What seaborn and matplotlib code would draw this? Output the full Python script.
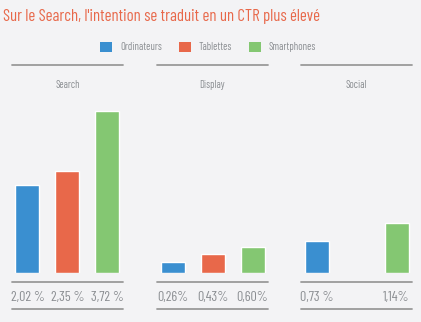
import matplotlib
matplotlib.use("Agg")
import matplotlib.pyplot as plt
from matplotlib.lines import Line2D
from matplotlib.patches import Patch
from matplotlib.transforms import blended_transform_factory
import seaborn as sns
import pandas as pd
import numpy as np

title = "Sur le Search, l'intention se traduit en un CTR plus élevé"
devices = ["Ordinateurs", "Tablettes", "Smartphones"]
panels = ["Search", "Display", "Social"]
search_vals = [2.02, 2.35, 3.72]
display_vals = [0.26, 0.43, 0.60]
social_vals = [0.73, np.nan, 1.14]
search_labels = ["2,02 %", "2,35 %", "3,72 %"]
display_labels = ["0,26%", "0,43%", "0,60%"]
social_labels = ["0,73 %", "", "1,14%"]
colors = ["#3a8fd0", "#e8684a", "#84c772"]

sns.set_theme(style="white")
plt.rcParams["font.family"] = ["Barlow Condensed", "DejaVu Sans"]

BG = "#f3f3f5"
GREY_TXT = "#8b8e92"
LINE = "#9a9a9a"
W, H = 421, 322
fig = plt.figure(figsize=(W / 100, H / 100), dpi=100, facecolor=BG)

def fx(x):
    return x / W

def fy(y):
    return 1 - y / H

fig.text(fx(3), fy(16), title, color="#e8684a", fontsize=12.1, ha="left",
         va="center", fontweight="normal")

handles = [Patch(facecolor=c, edgecolor="none") for c in colors]
fig.legend(handles, devices, ncol=3, loc="center", bbox_to_anchor=(fx(208), fy(47)),
           frameon=False, fontsize=7.6, labelcolor=GREY_TXT, handlelength=1.15,
           handleheight=1.15, handletextpad=0.75, columnspacing=1.6)

lefts = [12, 157, 301]
pw = 111
ymax = 4.0
px_per_unit = 43.5
vals_all = [search_vals, display_vals, social_vals]
labels_all = [search_labels, display_labels, social_labels]

for left, name, vals, labs in zip(lefts, panels, vals_all, labels_all):
    ax = fig.add_axes([fx(left), fy(273), pw / W, px_per_unit * ymax / H])
    df = pd.DataFrame({"device": devices, "value": vals})
    sns.barplot(data=df, x="device", y="value", hue="device", order=devices,
                hue_order=devices, palette=colors, width=0.6, ax=ax,
                legend=False, saturation=1)
    half = pw / 40 / 2
    ax.set_xlim(1 - half, 1 + half)
    ax.set_ylim(0, ymax)
    ax.set_axis_off()
    tr = blended_transform_factory(ax.transData, fig.transFigure)
    for i, lab in enumerate(labs):
        ax.text(i, fy(297), lab, transform=tr, ha="center", va="center",
                fontsize=10.2, color=GREY_TXT)
    for yy in (65, 282, 309):
        fig.add_artist(Line2D([fx(left), fx(left + pw)], [fy(yy), fy(yy)],
                              color=LINE, lw=1.3))
    fig.text(fx(left + pw / 2), fy(85), name, ha="center", va="center",
             fontsize=7.6, color=GREY_TXT)

fig.savefig("out.png", dpi=100, facecolor=BG)
